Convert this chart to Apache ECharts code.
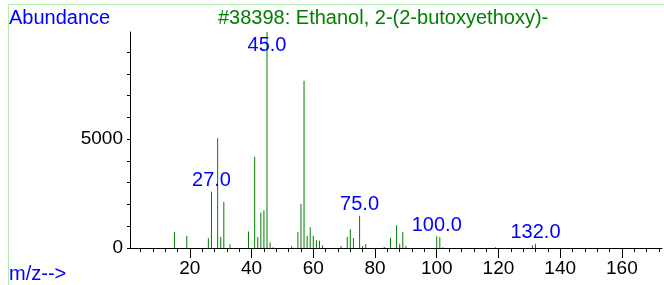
<!DOCTYPE html>
<html>
<head>
<meta charset="utf-8">
<script src="https://cdn.jsdelivr.net/npm/echarts@6/dist/echarts.min.js"></script>
<style>
html, body { margin: 0; padding: 0; background: #fff; }
#chart { width: 664px; height: 285px; }
</style>
</head>
<body>
<div id="chart"></div>
<script>
// m/z values of the spectral lines and their abundances
var masses = [15, 19, 26, 27, 29, 30, 31, 33, 39, 41, 42, 43, 44, 45, 46, 47, 53,
  55, 56, 57, 58, 59, 60, 61, 62, 63, 69, 71, 72, 73, 75, 76, 77, 83, 85, 87, 88,
  89, 90, 100, 101, 102, 119, 131, 132];
var abundances = [740, 560, 450, 2590, 5050, 500, 2110, 170, 760, 4190, 510, 1630,
  1730, 9930, 250, 40, 80, 740, 2030, 7690, 560, 950, 560, 360, 330, 130, 90, 500,
  860, 460, 1480, 90, 180, 50, 470, 1050, 190, 750, 90, 540, 500, 30, 40, 130, 190];
var labelledMasses = [27, 45, 75, 100, 132];
var xTickLabels = [20, 40, 60, 80, 100, 120, 140, 160];
var yTickLabels = [0, 5000];
var labelCap = 8820; // peak labels are not drawn higher than this

var FONT = '"Liberation Sans", Arial, sans-serif';

var minorX = [];
for (var t = 4; t <= 172; t += 4) minorX.push(t);
var minorY = [];
for (var v = 0; v <= 9000; v += 1000) minorY.push(v);

var peaks = masses.map(function (m, i) { return [m, abundances[i]]; });
var peakLabels = labelledMasses.map(function (m) {
  var a = abundances[masses.indexOf(m)];
  return [m, Math.min(a, labelCap)];
});

var myChart = echarts.init(document.getElementById('chart'));

var option = {
  animation: false,
  grid: { left: 130, right: 2, top: 32, bottom: 37 },
  xAxis: [{
    type: 'value',
    min: 0.6,
    max: 173,
    axisLine: { lineStyle: { color: '#000', width: 1 } },
    axisTick: { show: true, length: 10, customValues: xTickLabels, lineStyle: { color: '#000' } },
    axisLabel: { customValues: xTickLabels, margin: 11, color: '#000', fontSize: 19, fontFamily: FONT },
    splitLine: { show: false }
  }, {
    type: 'value',
    position: 'bottom',
    min: 0.6,
    max: 173,
    axisLine: { show: false },
    axisTick: { show: true, length: 4, customValues: minorX, lineStyle: { color: '#000' } },
    axisLabel: { show: false },
    splitLine: { show: false }
  }],
  yAxis: {
    type: 'value',
    min: 0,
    max: 9930,
    axisLine: { show: true, lineStyle: { color: '#000', width: 1 } },
    axisTick: { show: true, length: 3, customValues: minorY, lineStyle: { color: '#000' } },
    axisLabel: {
      customValues: yTickLabels,
      formatter: function (val) { return String(val); },
      margin: 7, color: '#000', fontSize: 19, fontFamily: FONT
    },
    splitLine: { show: false }
  },
  series: [{
    type: 'bar',
    data: peaks,
    barWidth: 1,
    itemStyle: { color: '#008000' },
    silent: true
  }, {
    type: 'scatter',
    data: peakLabels,
    symbolSize: 0,
    silent: true,
    itemStyle: { opacity: 1 },
    label: {
      show: true,
      position: 'top',
      distance: 1,
      formatter: function (p) { return p.value[0].toFixed(1); },
      color: '#0000ff',
      opacity: 1,
      textBorderWidth: 0,
      fontSize: 20,
      fontFamily: FONT
    }
  }],
  graphic: [
    { type: 'line', shape: { x1: 9, y1: 4.5, x2: 664, y2: 4.5 }, style: { stroke: '#b4f0b4', lineWidth: 1 } },
    { type: 'line', shape: { x1: 8.5, y1: 4, x2: 8.5, y2: 285 }, style: { stroke: '#b4f0b4', lineWidth: 1 } },
    { type: 'text', left: 9, top: 8, style: { text: 'Abundance', fill: '#0000ff', font: '20px ' + FONT } },
    { type: 'text', left: 218, top: 8, style: { text: '#38398: Ethanol, 2-(2-butoxyethoxy)-', fill: '#008000', font: '20px ' + FONT } },
    { type: 'text', left: 9, top: 264, style: { text: 'm/z-->', fill: '#0000ff', font: '20px ' + FONT } }
  ]
};

myChart.setOption(option);
</script>
</body>
</html>
